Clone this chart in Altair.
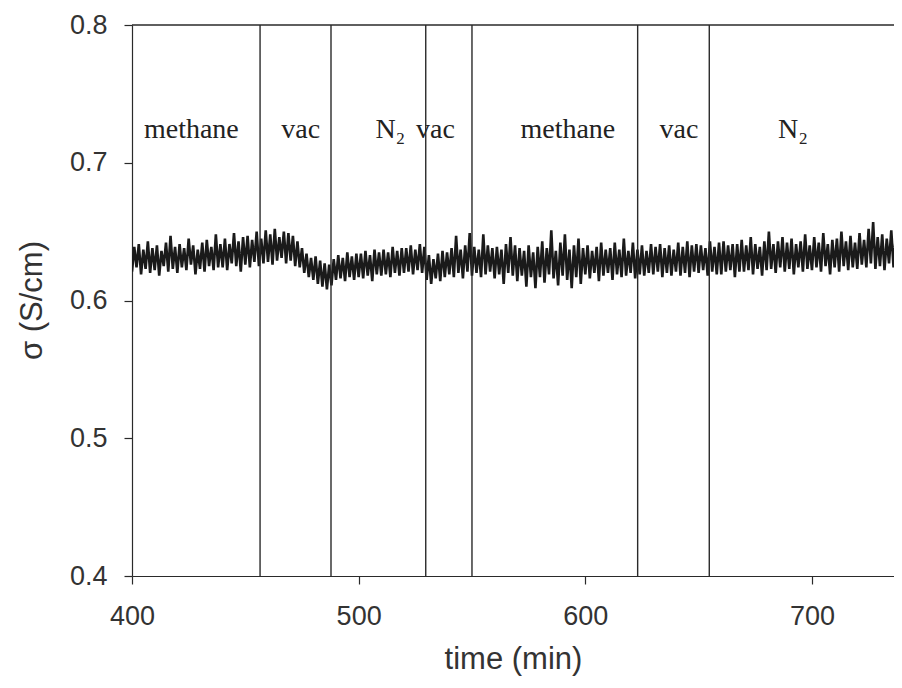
import altair as alt
import pandas as pd

# conductivity readings, one per minute from 400 to 740 min, in units of 1e-3 S/cm
start_min = 400
sigma_milli = [
    621, 639, 624, 641, 619, 637, 623, 643, 620, 638,
    622, 640, 618, 636, 625, 642, 621, 647, 623, 639,
    620, 641, 624, 638, 622, 645, 626, 640, 619, 637,
    623, 642, 621, 644, 625, 639, 622, 648, 624, 641,
    624, 645, 622, 641, 627, 649, 625, 643, 621, 646,
    626, 647, 624, 644, 628, 650, 625, 645, 627, 651,
    628, 648, 626, 652, 629, 646, 631, 650, 627, 649,
    629, 647, 625, 643, 624, 638, 620, 634, 617, 631,
    615, 632, 612, 629, 610, 627, 608, 626, 611, 630,
    615, 633, 616, 631, 614, 635, 617, 632, 615, 634,
    617, 634, 616, 636, 618, 633, 614, 637, 619, 635,
    618, 637, 619, 635, 617, 639, 620, 636, 618, 638,
    620, 638, 621, 640, 619, 637, 622, 641, 620, 639,
    615, 633, 612, 630, 616, 634, 614, 636, 617, 635,
    619, 638, 617, 647, 620, 637, 616, 640, 621, 649,
    618, 639, 620, 637, 617, 648, 619, 640, 621, 638,
    616, 639, 619, 637, 612, 641, 620, 646, 618, 640,
    614, 638, 618, 636, 610, 640, 617, 635, 609, 639,
    617, 643, 613, 638, 619, 651, 616, 636, 611, 642,
    618, 648, 615, 637, 609, 640, 617, 645, 612, 638,
    619, 640, 616, 636, 620, 639, 614, 642, 618, 637,
    620, 638, 615, 642, 619, 637, 617, 645, 618, 636,
    620, 642, 616, 637, 619, 640, 618, 636, 620, 641,
    619, 639, 621, 641, 617, 638, 620, 640, 618, 637,
    621, 642, 618, 639, 620, 643, 617, 640, 621, 641,
    620, 640, 622, 638, 618, 643, 621, 639, 619, 642,
    619, 643, 621, 640, 622, 641, 617, 641, 621, 644,
    621, 640, 622, 646, 619, 641, 623, 639, 618, 643,
    622, 650, 623, 641, 620, 643, 624, 646, 621, 642,
    623, 645, 619, 641, 624, 643, 621, 648, 623, 640,
    622, 646, 624, 642, 621, 649, 625, 641, 619, 644,
    624, 645, 621, 650, 625, 643, 622, 647, 624, 642,
    623, 649, 626, 644, 624, 652, 627, 657, 623, 646,
    625, 648, 622, 645, 627, 651, 624, 647, 626, 644, 627,
]

# gas-switch times (min)
switch_times = [456.5, 487.8, 529.6, 550.0, 623.1, 654.7]

# atmosphere labels and where they sit along the time axis
phase_names = ["methane", "vac", "N\u2082", "vac", "methane", "vac", "N\u2082"]
phase_time = [426.2, 474.4, 514.0, 533.9, 592.3, 641.3, 691.6]
label_sigma = 0.718

x_ticks = [400, 500, 600, 700]
y_ticks = [0.4, 0.5, 0.6, 0.7, 0.8]

series = pd.DataFrame({
    "time": [start_min + i for i in range(len(sigma_milli))],
    "sigma": [v / 1000 for v in sigma_milli],
})
switches = pd.DataFrame({"time": switch_times})
phases = pd.DataFrame({"time": phase_time, "name": phase_names,
                       "sigma": [label_sigma] * len(phase_names)})
top = pd.DataFrame({"sigma": [0.8]})

INK = "#2a2a2a"
TXT = "#333333"

xscale = alt.Scale(domain=[400, 736.2], nice=False, zero=False)
yscale = alt.Scale(domain=[0.4, 0.8], nice=False, zero=False)

xaxis = alt.Axis(values=x_ticks, title="time (min)", grid=False, labelFlush=False,
                 labelFont="Liberation Sans", labelFontSize=27, labelColor=TXT,
                 labelPadding=19, tickSize=8, tickColor=INK, domainColor=INK,
                 tickWidth=1.2, domainWidth=1.2,
                 titleFont="Liberation Sans", titleFontSize=31, titleFontWeight="normal",
                 titleColor=TXT, titleY=92, titleBaseline="alphabetic")
yaxis = alt.Axis(values=y_ticks, format=".1f", title="\u03c3 (S/cm)", grid=False,
                 labelFlush=False,
                 labelFont="Liberation Sans", labelFontSize=27, labelColor=TXT,
                 labelPadding=17, tickSize=8, tickColor=INK, domainColor=INK,
                 tickWidth=1.2, domainWidth=1.2,
                 titleFont="Liberation Sans", titleFontSize=31, titleFontWeight="normal",
                 titleColor=TXT, titleX=-100, titleY=275, titleAngle=-90,
                 titleBaseline="middle", titleAlign="center")

line = alt.Chart(series).mark_line(color="#1a1a1a", strokeWidth=2.6, clip=True).encode(
    x=alt.X("time:Q", scale=xscale, axis=xaxis),
    y=alt.Y("sigma:Q", scale=yscale, axis=yaxis),
)

rules = alt.Chart(switches).mark_rule(color=INK, strokeWidth=1.4).encode(
    x=alt.X("time:Q", scale=xscale),
)

top_rule = alt.Chart(top).mark_rule(color=INK, strokeWidth=1.4).encode(
    y=alt.Y("sigma:Q", scale=yscale),
)

labels = alt.Chart(phases).mark_text(font="Liberation Serif", fontSize=28,
                                     color="#222222", baseline="alphabetic",
                                     align="center").encode(
    x=alt.X("time:Q", scale=xscale),
    y=alt.Y("sigma:Q", scale=yscale),
    text="name:N",
)

chart = alt.layer(line, rules, top_rule, labels).properties(
    width=762, height=551,
    autosize=alt.AutoSizeParams(type="none"),
    padding={"left": 124, "top": 17, "right": 0, "bottom": 104},
    background="white",
).configure_view(stroke=None)

chart.save("out.html", embed_options={"renderer": "svg", "actions": False})
